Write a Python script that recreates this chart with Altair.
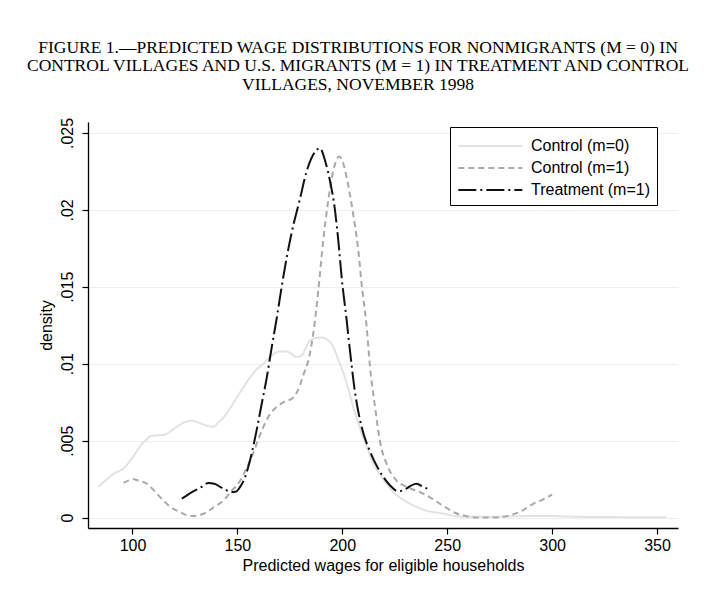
import altair as alt
import pandas as pd

# ---- data ----
series_names = ["Control (m=0)", "Control (m=1)", "Treatment (m=1)"]

c0_x = [83.8, 87, 91, 95.7, 100.5, 104, 106.9, 109.2, 113, 115.6, 118, 121.1, 125, 128.3, 131, 133,
        136, 138.6, 141, 143.3, 146.5, 149.7, 153, 156, 159, 162.4, 166, 170.3, 173, 175.1, 178, 180,
        184.6, 187.5, 190.2, 193, 195.7, 198, 200.5, 203, 205.2, 208, 210, 212.5, 214.8, 218, 221.1,
        224, 227.5, 231, 235.4, 240, 246.5, 252, 259.2, 270, 280, 290, 300, 310, 320, 340, 354.5]
c0_y = [0.0020, 0.0024, 0.00285, 0.0032, 0.0040, 0.0047, 0.0051, 0.00532, 0.00535, 0.0054, 0.0056,
        0.0059, 0.0062, 0.0063, 0.0062, 0.0061, 0.00595, 0.0059, 0.0062, 0.0065, 0.0071, 0.0078,
        0.0085, 0.0091, 0.0096, 0.0100, 0.0105, 0.0108, 0.0108, 0.0107, 0.01045, 0.01048,
        0.0115, 0.01168, 0.0117, 0.01155, 0.0111, 0.0103, 0.0094, 0.0083, 0.0072, 0.0060, 0.0052,
        0.0043, 0.0035, 0.0028, 0.0022, 0.0017, 0.0013, 0.0010, 0.0007, 0.00045, 0.0003, 0.00015,
        0.00005, 0.00005, 0.00008, 0.0001, 0.0001, 0.00006, 0.00004, 0.00003, 0.00003]

c1_x = [95.7, 98, 100.5, 103, 106.9, 110, 114.8, 118, 122.7, 126, 128.3, 131, 135.4, 139, 143.3,
        147, 151.3, 154, 157.6, 160, 162.4, 165, 168.8, 172, 176.7, 179.8, 181.5, 183.8, 186.2,
        188.6, 190.9, 193.3, 195.7, 198.6, 200.5, 202.1, 205.2, 207.6, 209.2, 211.6, 213.2, 215.6,
        217.9, 221.1, 225.9, 230.7, 237, 242, 246.5, 250, 254, 257.6, 262, 268.8, 275,
        279.9, 285, 291, 296, 300]
c1_y = [0.00225, 0.0024, 0.00249, 0.0024, 0.0022, 0.0018, 0.0011, 0.0007, 0.00036, 0.00015, 0.0001,
        0.00013, 0.00036, 0.0007, 0.0011, 0.0017, 0.0024, 0.0031, 0.0042, 0.0051, 0.0059, 0.0066,
        0.0072, 0.0075, 0.0078, 0.0086, 0.0093, 0.0102, 0.0120, 0.0148, 0.0180, 0.0206, 0.02255,
        0.02346, 0.0230, 0.0221, 0.0197, 0.0174, 0.0152, 0.0124, 0.0098, 0.0072, 0.0050, 0.0035,
        0.0024, 0.0020, 0.00166, 0.0013, 0.0009, 0.0006, 0.0003, 0.00015, 0.00003, 0.0, 0.00003,
        0.00015, 0.0004, 0.0009, 0.0012, 0.0015]

t1_x = [123.5, 126.5, 129.9, 133, 136.2, 139, 141.8, 144.5, 147.3, 149.5, 151.3, 153.3, 155.2,
        157.2, 159.2, 161.6, 164, 166.4, 168.8, 171.1, 173.5, 176, 179.8, 183, 186.2, 189.3, 192,
        194.1, 196.5, 198.1, 199.7, 202.1, 203.7, 206, 209.2, 213.2, 217.9, 222.7, 226.7, 230.7,
        233, 235.4, 238.5, 241.8]
t1_y = [0.00123, 0.0015, 0.00177, 0.0020, 0.00225, 0.0022, 0.0020, 0.0018, 0.00166, 0.0017, 0.0020,
        0.0025, 0.0033, 0.0044, 0.0057, 0.0074, 0.0091, 0.0111, 0.0130, 0.0150, 0.0169, 0.0186,
        0.0207, 0.0225, 0.0236, 0.0240, 0.0231, 0.0219, 0.0200, 0.0180, 0.0156, 0.0128, 0.0108,
        0.0082, 0.0059, 0.0043, 0.0030, 0.0021, 0.0017, 0.0019, 0.0021, 0.0022, 0.0020, 0.0018]

x_ticks = [100, 150, 200, 250, 300, 350]
y_ticks = [0, 0.005, 0.01, 0.015, 0.02, 0.025]

title_lines = [
    "FIGURE 1.—PREDICTED WAGE DISTRIBUTIONS FOR NONMIGRANTS (M = 0) IN",
    "CONTROL VILLAGES AND U.S. MIGRANTS (M = 1) IN TREATMENT AND CONTROL",
    "VILLAGES, NOVEMBER 1998",
]

rows = []
for name, xs, ys in zip(series_names, [c0_x, c1_x, t1_x], [c0_y, c1_y, t1_y]):
    for i, (a, b) in enumerate(zip(xs, ys)):
        rows.append({"series": name, "wage": a, "density": b, "order": i})
df = pd.DataFrame(rows)

legend_label_expr = "datum.label + '\u00a0\u00a0\u00a0'"

chart = alt.Chart(df).mark_line(strokeWidth=2, interpolate="monotone").encode(
    x=alt.X("wage:Q", title="Predicted wages for eligible households",
            scale=alt.Scale(domain=[78.8, 360], nice=False, zero=False),
            axis=alt.Axis(values=x_ticks, grid=False, labelPadding=3, titlePadding=4)),
    y=alt.Y("density:Q", title="density",
            scale=alt.Scale(domain=[-0.000675, 0.02571], nice=False, zero=False),
            axis=alt.Axis(values=y_ticks, grid=True, gridColor="#eeeeee", labelAngle=270,
                          labelAlign="center", labelBaseline="bottom", labelPadding=7,
                          titlePadding=5,
                          labelExpr="datum.value == 0 ? '0' : substring(toString(datum.value), 1)")),
    color=alt.Color("series:N", scale=alt.Scale(domain=series_names,
                                                  range=["#e2e2e2", "#a9a9a9", "#111111"]),
                    legend=alt.Legend(title=None, labelExpr=legend_label_expr)),
    strokeDash=alt.StrokeDash("series:N", scale=alt.Scale(domain=series_names,
                                                            range=[[1, 0], [6, 4], [18, 4, 2, 4]]),
                              legend=alt.Legend(title=None, labelExpr=legend_label_expr)),
    order="order:Q",
).properties(
    width=590, height=406,
    autosize=alt.AutoSizeParams(type="none"),
    padding={"left": 80, "top": 114, "right": 20, "bottom": 60},
    title=alt.TitleParams(text=title_lines, anchor="middle", frame="group", dx=-25, offset=24,
                          font="Liberation Serif", fontSize=17.5, fontWeight="normal",
                          lineHeight=18.5, color="black"),
).configure_view(stroke=None).configure_axis(
    domainColor="black", domainWidth=1.3, tickColor="black", tickSize=6, tickWidth=1.2,
    labelFont="Liberation Sans", labelFontSize=16, labelColor="black",
    titleFont="Liberation Sans", titleFontSize=16, titleFontWeight="normal", titleColor="black",
).configure_legend(
    orient="none", legendX=362, legendY=5, strokeColor="black", fillColor="white",
    padding=7, symbolType="M-1,0H5", symbolSize=455, symbolStrokeWidth=2,
    labelFont="Liberation Sans", labelFontSize=16, labelColor="black", labelOffset=50,
    rowPadding=2,
)

chart.save("out.html", embed_options={"renderer": "svg", "actions": False})
